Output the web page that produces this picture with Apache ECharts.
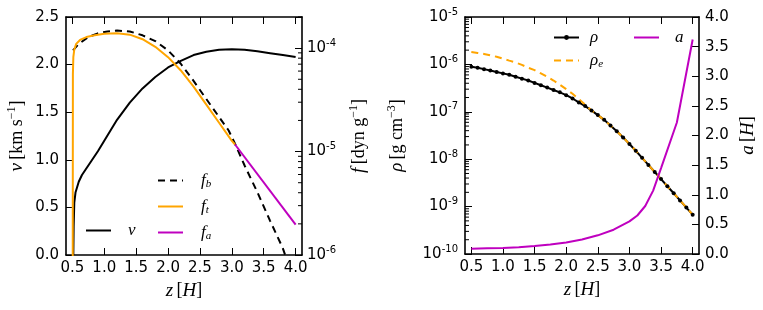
<!DOCTYPE html>
<html><head><meta charset="utf-8">
<script src="https://cdn.jsdelivr.net/npm/echarts/dist/echarts.min.js"></script>
<style>html,body{margin:0;padding:0;background:#fff}#c{width:763px;height:310px}</style>
</head><body><div id="c"></div>
<script>
// ---------- data ----------
const zTicks = [0.5, 1.0, 1.5, 2.0, 2.5, 3.0, 3.5, 4.0];
const vTicksStep = 0.5;
const minorMantissa = [2, 3, 4, 5, 6, 7, 8, 9];
const fDecades = [1e-6, 1e-5, 1e-4];
const rhoDecades = [1e-10, 1e-9, 1e-8, 1e-7, 1e-6];

// left panel: velocity v [km/s]
const zV = [0.515, 0.52, 0.53, 0.55, 0.6, 0.65, 0.7, 0.8, 0.9, 1.0, 1.2, 1.4, 1.6, 1.8, 2.0, 2.2, 2.4, 2.6, 2.8, 3.0, 3.2, 3.4, 3.6, 3.8, 4.0];
const vVals = [0.0, 0.3, 0.55, 0.66, 0.77, 0.84, 0.89, 0.99, 1.09, 1.2, 1.42, 1.6, 1.75, 1.87, 1.97, 2.04, 2.10, 2.135, 2.155, 2.16, 2.155, 2.14, 2.12, 2.10, 2.08];

// left panel: forces f [dyn/g]
const zFb = [0.51, 0.6, 0.75, 0.9, 1.05, 1.2, 1.4, 1.6, 1.8, 2.0, 2.2, 2.4, 2.6, 2.8, 2.95, 3.05, 3.2, 3.4, 3.6, 3.8, 3.85];
const fbVals = [9.51e-5, 1.10e-4, 1.28e-4, 1.39e-4, 1.45e-4, 1.48e-4, 1.45e-4, 1.33e-4, 1.17e-4, 9.51e-5, 7.06e-5, 4.82e-5, 3.22e-5, 2.16e-5, 1.60e-5, 1.19e-5, 7.33e-6, 4.05e-6, 2.14e-6, 1.16e-6, 9.4e-7];
const zFt = [0.505, 0.508, 0.515, 0.53, 0.56, 0.62, 0.72, 0.85, 1.0, 1.2, 1.4, 1.6, 1.8, 2.0, 2.2, 2.4, 2.6, 2.8, 3.0, 3.05];
const ftVals = [3e-7, 5.6e-5, 8.18e-5, 9.70e-5, 1.10e-4, 1.20e-4, 1.28e-4, 1.33e-4, 1.38e-4, 1.39e-4, 1.35e-4, 1.22e-4, 1.03e-4, 8.18e-5, 6.08e-5, 4.25e-5, 2.84e-5, 1.90e-5, 1.27e-5, 1.17e-5];
const zFa = [3.05, 4.0];
const faVals = [1.17e-5, 1.97e-6];

// right panel: density rho, rho_e [g/cm^3], and a [H]
const zRho = [0.5, 0.6, 0.7, 0.8, 0.9, 1.0, 1.1, 1.2, 1.3, 1.4, 1.5, 1.6, 1.7, 1.8, 1.9, 2.0, 2.1, 2.2, 2.3, 2.4, 2.5, 2.6, 2.7, 2.8, 2.9, 3.0, 3.1, 3.2, 3.3, 3.4, 3.5, 3.6, 3.7, 3.8, 3.9, 4.0];
const rhoVals = [8.91e-7, 8.51e-7, 7.94e-7, 7.41e-7, 6.92e-7, 6.46e-7, 6.03e-7, 5.50e-7, 5.01e-7, 4.57e-7, 4.07e-7, 3.63e-7, 3.24e-7, 2.88e-7, 2.57e-7, 2.24e-7, 1.91e-7, 1.58e-7, 1.32e-7, 1.07e-7, 8.51e-8, 6.76e-8, 5.13e-8, 3.89e-8, 2.88e-8, 2.09e-8, 1.51e-8, 1.07e-8, 7.59e-9, 5.37e-9, 3.80e-9, 2.69e-9, 1.91e-9, 1.35e-9, 9.55e-10, 6.76e-10];
const rhoEVals = [1.82e-6, 1.74e-6, 1.66e-6, 1.55e-6, 1.45e-6, 1.32e-6, 1.20e-6, 1.10e-6, 9.77e-7, 8.51e-7, 7.59e-7, 6.46e-7, 5.50e-7, 4.57e-7, 3.72e-7, 3.02e-7, 2.40e-7, 1.86e-7, 1.41e-7, 1.07e-7, 8.51e-8, 6.76e-8, 5.13e-8, 3.89e-8, 2.88e-8, 2.09e-8, 1.51e-8, 1.07e-8, 7.59e-9, 5.37e-9, 3.80e-9, 2.69e-9, 1.91e-9, 1.35e-9, 9.55e-10, 6.76e-10];
const zA = [0.5, 0.75, 1.0, 1.25, 1.5, 1.75, 2.0, 2.25, 2.5, 2.75, 3.0, 3.125, 3.25, 3.375, 3.5, 3.75, 4.0];
const aVals = [0.09, 0.095, 0.10, 0.115, 0.135, 0.16, 0.195, 0.245, 0.315, 0.41, 0.55, 0.65, 0.81, 1.07, 1.45, 2.22, 3.62];

// ---------- styling ----------
const SANS = 'DejaVu Sans';
const SERIF = 'Liberation Serif';
const BLACK = '#000000', ORANGE = '#FFA500', MAGENTA = '#BF00BF';
const pair = (xs, ys) => xs.map((x, i) => [x, ys[i]]);

const nameRich = {
  i: {fontFamily: SERIF, fontStyle: 'italic', fontSize: 19, color: BLACK},
  n: {fontFamily: SERIF, fontSize: 18, color: BLACK},
  sup: {fontFamily: SERIF, fontSize: 12, color: BLACK, padding: [0, 0, 10, 0]}
};
const logRich = {
  b: {fontFamily: SANS, fontSize: 15, color: BLACK},
  s: {fontFamily: SANS, fontSize: 10, color: BLACK, padding: [0, 0, 10, 0]}
};
function logLabel(v) {
  const e = Math.log10(v), r = Math.round(e);
  if (Math.abs(e - r) > 1e-6) return '';
  return '{b|10}{s|' + r + '}';
}
const lin1 = v => v.toFixed(1);

function xAxisFor(grid, top) {
  return {
    gridIndex: grid, type: 'value', min: 0.4, max: 4.1, position: top ? 'top' : 'bottom',
    axisLine: {onZero: false, lineStyle: {color: BLACK, width: 1.6}},
    axisTick: {inside: true, length: 7, customValues: zTicks, lineStyle: {color: BLACK, width: 1}},
    axisLabel: {show: !top, customValues: zTicks, formatter: lin1, color: BLACK, fontFamily: SANS, fontSize: 15, margin: 6},
    splitLine: {show: false},
    name: top ? '' : '{i|z} {n|[}{i|H}{n|]}', nameLocation: 'middle', nameGap: 26,
    nameTextStyle: {rich: nameRich}
  };
}

function minorTicks(xIdx, yIdx, vals, side) {
  return {
    type: 'custom', xAxisIndex: xIdx, yAxisIndex: yIdx, silent: true, clip: false, z: 5,
    data: vals.map(v => [1.0, v]),
    renderItem(params, api) {
      const y = api.coord([api.value(0), api.value(1)])[1];
      const cs = params.coordSys;
      const x0 = side === 'right' ? cs.x + cs.width : cs.x;
      const x1 = side === 'right' ? x0 - 4 : x0 + 4;
      return {type: 'line', shape: {x1: x0, y1: y, x2: x1, y2: y}, style: {stroke: BLACK, lineWidth: 1}};
    }
  };
}
const expand = (decades, maxV) => {
  const out = [];
  decades.forEach(d => minorMantissa.forEach(m => { const v = m * d; if (v <= maxV * 1.0001) out.push(v); }));
  return out;
};

function legendText(pad) {
  return {
    rich: {
      i: {fontFamily: SERIF, fontStyle: 'italic', fontSize: 17, color: BLACK, padding: [0, 0, 0, pad]},
      sub: {fontFamily: SERIF, fontStyle: 'italic', fontSize: 11, color: BLACK, padding: [8, 0, 0, 0]}
    }
  };
}
const legendNames = {
  'v': '{i|v}', 'f_b': '{i|f}{sub|b}', 'f_t': '{i|f}{sub|t}', 'f_a': '{i|f}{sub|a}',
  'rho': '{i|ρ}', 'rho_e': '{i|ρ}{sub|e}', 'a': '{i|a}'
};
const noMarker = ['v', 'f_b', 'f_t', 'f_a', 'rho_e', 'a'];
function legendAt(names, left, top, pad, gap, ih) {
  return {
    data: names.map(n => noMarker.includes(n) ? {name: n, itemStyle: {opacity: 0}} : {name: n}),
    orient: 'vertical', left: left, top: top, padding: 0,
    itemWidth: 25, itemHeight: ih, itemGap: gap, selectedMode: false,
    formatter: n => legendNames[n], textStyle: legendText(pad)
  };
}

const option = {
  animation: false,
  backgroundColor: '#fff',
  grid: [
    {left: 66, top: 17, width: 236, height: 238},
    {left: 465, top: 17, width: 234, height: 237}
  ],
  xAxis: [xAxisFor(0, false), xAxisFor(0, true), xAxisFor(1, false), xAxisFor(1, true)],
  yAxis: [
    {gridIndex: 0, type: 'value', position: 'left', min: 0, max: 2.5, interval: vTicksStep,
     axisLine: {show: true, onZero: false, lineStyle: {color: BLACK, width: 1.6}},
     axisTick: {inside: true, length: 7, lineStyle: {color: BLACK}},
     axisLabel: {formatter: lin1, color: BLACK, fontFamily: SANS, fontSize: 15, margin: 7},
     splitLine: {show: false},
     name: '{i|v} {n|[km s}{sup|−1}{n|]}', nameLocation: 'middle', nameRotate: 90, nameGap: 38,
     nameTextStyle: {rich: nameRich}},
    {gridIndex: 0, type: 'log', logBase: 10, position: 'right', min: 1e-6, max: 2e-4,
     axisLine: {show: true, onZero: false, lineStyle: {color: BLACK, width: 1.6}},
     axisTick: {inside: true, length: 7, lineStyle: {color: BLACK}},
     axisLabel: {formatter: logLabel, rich: logRich, margin: 5},
     splitLine: {show: false}, minorTick: {show: false},
     name: '{i|f} {n|[dyn g}{sup|−1}{n|]}', nameLocation: 'middle', nameRotate: 90, nameGap: 46,
     nameTextStyle: {rich: nameRich}},
    {gridIndex: 1, type: 'log', logBase: 10, position: 'left', min: 1e-10, max: 1e-5,
     axisLine: {show: true, onZero: false, lineStyle: {color: BLACK, width: 1.6}},
     axisTick: {inside: true, length: 7, lineStyle: {color: BLACK}},
     axisLabel: {formatter: logLabel, rich: logRich, margin: 7},
     splitLine: {show: false},
     name: '{i|ρ} {n|[g cm}{sup|−3}{n|]}', nameLocation: 'middle', nameRotate: 90, nameGap: 57,
     nameTextStyle: {rich: nameRich}},
    {gridIndex: 1, type: 'value', position: 'right', min: 0, max: 4, interval: 0.5,
     axisLine: {show: true, onZero: false, lineStyle: {color: BLACK, width: 1.6}},
     axisTick: {inside: true, length: 7, lineStyle: {color: BLACK}},
     axisLabel: {formatter: lin1, color: BLACK, fontFamily: SANS, fontSize: 15, margin: 6},
     splitLine: {show: false},
     name: '{i|a} {n|[}{i|H}{n|]}', nameLocation: 'middle', nameRotate: 90, nameGap: 39,
     nameTextStyle: {rich: nameRich}}
  ],
  legend: [
    legendAt(['v'], 85, 222, 12, 12, 10),
    legendAt(['f_b', 'f_t', 'f_a'], 157, 172, 13, 8, 10),
    legendAt(['rho', 'rho_e'], 553, 29, 6, 6, 6),
    legendAt(['a'], 633, 29, 11, 6, 6)
  ],
  series: [
    {name: 'v', type: 'line', xAxisIndex: 0, yAxisIndex: 0, data: pair(zV, vVals), symbol: 'none',
     lineStyle: {color: BLACK, width: 2}, itemStyle: {color: BLACK}},
    {name: 'f_b', type: 'line', xAxisIndex: 0, yAxisIndex: 1, data: pair(zFb, fbVals), symbol: 'none',
     lineStyle: {color: BLACK, width: 2, type: [7, 5]}, itemStyle: {color: BLACK}},
    {name: 'f_t', type: 'line', xAxisIndex: 0, yAxisIndex: 1, data: pair(zFt, ftVals), symbol: 'none',
     lineStyle: {color: ORANGE, width: 2}, itemStyle: {color: ORANGE}},
    {name: 'f_a', type: 'line', xAxisIndex: 0, yAxisIndex: 1, data: pair(zFa, faVals), symbol: 'none',
     lineStyle: {color: MAGENTA, width: 2}, itemStyle: {color: MAGENTA}},
    minorTicks(0, 1, expand(fDecades, 2e-4), 'right'),
    {name: 'rho', type: 'line', xAxisIndex: 2, yAxisIndex: 2, data: pair(zRho, rhoVals), symbol: 'circle', symbolSize: 4,
     showSymbol: true, lineStyle: {color: BLACK, width: 2}, itemStyle: {color: BLACK}},
    {name: 'rho_e', type: 'line', xAxisIndex: 2, yAxisIndex: 2, data: pair(zRho, rhoEVals), symbol: 'none',
     lineStyle: {color: ORANGE, width: 2, type: [7, 5]}, itemStyle: {color: ORANGE}},
    {name: 'a', type: 'line', xAxisIndex: 2, yAxisIndex: 3, data: pair(zA, aVals), symbol: 'none',
     lineStyle: {color: MAGENTA, width: 2}, itemStyle: {color: MAGENTA}},
    minorTicks(2, 2, expand(rhoDecades, 1e-5), 'left')
  ]
};
const chart = echarts.init(document.getElementById('c'), null, {renderer: 'canvas'});
chart.setOption(option);
</script>
</body></html>
